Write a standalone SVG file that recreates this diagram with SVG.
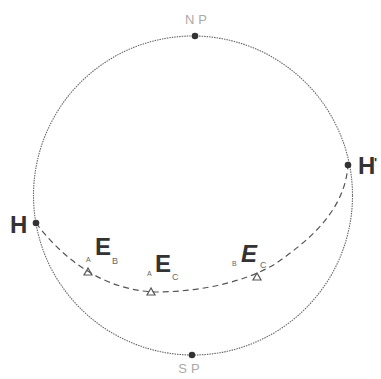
<svg xmlns="http://www.w3.org/2000/svg" width="381" height="379" viewBox="0 0 381 379">
<style>
.circ{fill:none;stroke:#666;stroke-width:1.1;stroke-dasharray:1.5,1}
.dash{fill:none;stroke:#555;stroke-width:1.2;stroke-dasharray:6,4}
.dot{fill:#333}
.tri{fill:none;stroke:#555;stroke-width:1.2}
.pole{font-family:"Liberation Sans",sans-serif;font-size:13px;fill:#aaa;letter-spacing:4px}
.big{font-family:"Liberation Sans",sans-serif;font-size:24px;font-weight:bold;fill:#333}
.sub{font-family:"Liberation Sans",sans-serif;font-size:9px;fill:#666}
.tiny{font-family:"Liberation Sans",sans-serif;font-size:7px;fill:#666}
</style>
<rect width="381" height="379" fill="#fff"/>
<g id="connectors">
<circle class="circ" cx="193" cy="195.5" r="159.5"/>
<path class="dash" d="M36 223 C60 255 100 290 155 292 C200 292 245 282 275 264 C310 240 345 210 348 165"/>
</g>
<g id="NP"><circle class="dot" cx="195" cy="36" r="3.3"/><text class="pole" x="198" y="24" text-anchor="middle">NP</text></g>
<g id="SP"><circle class="dot" cx="192" cy="355" r="3.3"/><text class="pole" x="191" y="373" text-anchor="middle">SP</text></g>
<g id="H"><circle class="dot" cx="36" cy="223" r="3.3"/><text class="big" x="10" y="233">H</text></g>
<g id="H2"><circle class="dot" cx="348" cy="165" r="3.3"/><text class="big" x="358" y="174">H</text><text class="big" x="374" y="167" style="font-size:13px">'</text></g>
<g id="EB"><polygon class="tri" points="88,268 84,275 92,275"/><text class="tiny" x="86" y="262">A</text><text class="big" x="95" y="255">E</text><text class="sub" x="112" y="264">B</text></g>
<g id="EC"><polygon class="tri" points="151,288 147,295 155,295"/><text class="tiny" x="147" y="276">A</text><text class="big" x="155" y="272">E</text><text class="sub" x="172" y="280">C</text></g>
<g id="EC2"><polygon class="tri" points="257,273 253,280 261,280"/><text class="tiny" x="232" y="266">B</text><text class="big" x="241" y="262" style="font-style:italic">E</text><text class="sub" x="260" y="268">C</text></g>
</svg>
